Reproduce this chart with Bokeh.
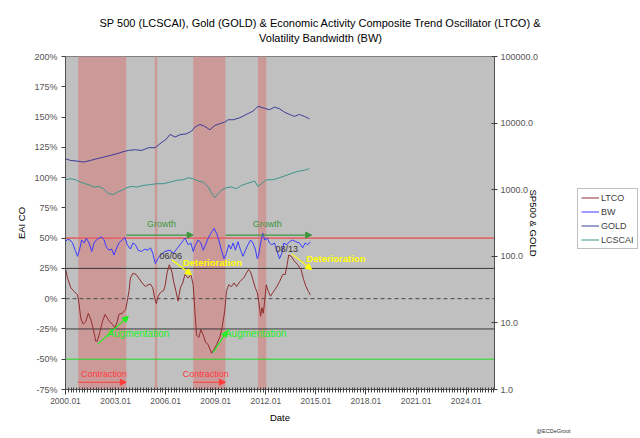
import math
from bokeh.plotting import figure
from bokeh.layouts import column, row
from bokeh.models import (Range1d, LogScale, LogAxis, FixedTicker, PrintfTickFormatter,
                          NumeralTickFormatter, Span, BoxAnnotation, Label, Arrow,
                          NormalHead, Legend, LegendItem, Title)
from bokeh.embed import file_html
from bokeh.resources import INLINE

FONT = "Liberation Sans"

# ---------------- data ----------------
ltco_year = [2000.00, 2000.12, 2000.32, 2000.52, 2000.72, 2000.82, 2000.91, 2001.06, 2001.21, 2001.37,
             2001.51, 2001.65, 2001.81, 2001.91, 2002.05, 2002.21, 2002.37, 2002.50, 2002.64, 2002.80,
             2002.96, 2003.10, 2003.20, 2003.40, 2003.60, 2003.70, 2003.80, 2003.89, 2004.04, 2004.23,
             2004.39, 2004.59, 2004.79, 2004.95, 2005.09, 2005.23, 2005.35, 2005.44, 2005.55, 2005.68,
             2005.78, 2005.89, 2005.98, 2006.08, 2006.22, 2006.38, 2006.48, 2006.62, 2006.74, 2006.88,
             2007.02, 2007.16, 2007.35, 2007.51, 2007.65, 2007.75, 2007.85, 2007.99, 2008.11, 2008.25,
             2008.39, 2008.55, 2008.75, 2008.90, 2009.05, 2009.24, 2009.38, 2009.54, 2009.64, 2009.78,
             2009.94, 2010.10, 2010.24, 2010.44, 2010.69, 2010.83, 2010.97, 2011.09, 2011.23, 2011.37,
             2011.49, 2011.57, 2011.69, 2011.77, 2011.85, 2011.93, 2012.03, 2012.12, 2012.28, 2012.42,
             2012.62, 2012.82, 2013.02, 2013.16, 2013.28, 2013.37, 2013.52, 2013.71, 2013.91, 2014.11,
             2014.27, 2014.41, 2014.55, 2014.67]
ltco_val = [25, 17, 9, 6, 3, -5, -16, -21, -19, -12,
            -17, -24, -35, -35, -28, -19, -13, -16, -19, -21,
            -24, -19, -13, -12, -9, -2, 6, 17, 21, 20,
            17, 13, 10, 11.5, 12, 9, 0, -4, 2, 5,
            6, 7, 11.5, 21, 28, 22, 14, 6, -2, 9,
            13, 20, 17, 20, 11.5, -10, -30, -32, -25.5, -30,
            -36, -38, -45, -42, -38, -32, -24, -10, 6, 11.5,
            10, 13, 10, 14, 17.5, 21, 24, 22, 15.6, 9,
            5, -2, -14.5, -7.5, -12, -2, 11.5, 7, 2, 5,
            9, 14, 20, 20, 28, 36, 35, 31, 28, 24,
            15.6, 10, 6, 3]

bw_year = [2000.00, 2000.12, 2000.26, 2000.42, 2000.58, 2000.72, 2000.85, 2000.97, 2001.12, 2001.25,
           2001.41, 2001.57, 2001.71, 2001.85, 2002.01, 2002.16, 2002.31, 2002.44, 2002.61, 2002.76,
           2002.90, 2003.04, 2003.20, 2003.40, 2003.56, 2003.70, 2003.89, 2004.04, 2004.19, 2004.35,
           2004.55, 2004.75, 2004.95, 2005.09, 2005.23, 2005.38, 2005.53, 2005.68, 2005.96, 2006.26,
           2006.46, 2006.66, 2006.86, 2007.05, 2007.16, 2007.35, 2007.51, 2007.65, 2007.79, 2007.95,
           2008.11, 2008.25, 2008.39, 2008.55, 2008.71, 2008.90, 2009.05, 2009.18, 2009.34, 2009.50,
           2009.64, 2009.78, 2009.90, 2010.04, 2010.18, 2010.33, 2010.49, 2010.63, 2010.78, 2010.93,
           2011.09, 2011.23, 2011.37, 2011.49, 2011.57, 2011.69, 2011.82, 2011.93, 2012.09, 2012.22,
           2012.36, 2012.52, 2012.68, 2012.82, 2012.96, 2013.08, 2013.22, 2013.42, 2013.60, 2013.80,
           2014.01, 2014.21, 2014.35, 2014.51, 2014.67]
bw_val = [47, 49, 48.5, 46, 40, 35, 41, 48.5, 46, 50,
          46, 39, 46, 48.5, 50, 51, 48.5, 43, 40, 41,
          36, 41, 46, 48.5, 50.5, 44.5, 41, 46, 44.5, 40,
          39, 41, 40, 42, 37.5, 29, 33, 36, 39, 40,
          37.5, 41, 44.5, 48, 50, 44.5, 46, 39, 44.5, 48.5,
          46, 40, 44.5, 50, 54, 58, 54, 48.5, 40, 33,
          37.5, 44.5, 41, 46, 40, 47, 40, 35, 40, 44.5,
          48.5, 46, 41, 33, 36, 46, 54, 48.5, 50, 46,
          44.5, 46, 39, 33, 37.5, 46, 44.5, 47, 48.5, 47,
          46, 42, 46, 44.5, 47]

gold_year = [2000.00, 2000.30, 2000.70, 2001.09, 2001.49, 2001.89, 2002.28, 2002.68, 2003.08, 2003.38,
             2003.77, 2004.17, 2004.57, 2004.97, 2005.37, 2005.66, 2006.06, 2006.26, 2006.56, 2006.86,
             2007.26, 2007.56, 2007.75, 2008.05, 2008.35, 2008.65, 2008.94, 2009.24, 2009.54, 2009.74,
             2010.04, 2010.44, 2010.83, 2011.23, 2011.53, 2011.82, 2012.22, 2012.52, 2012.82, 2013.12,
             2013.42, 2013.71, 2014.01, 2014.31, 2014.61]
gold_val = [2920, 2750, 2690, 2600, 2750, 2920, 3090, 3270, 3470, 3670,
            3890, 3980, 3890, 4270, 4270, 4900, 5820, 6760, 6170, 6690,
            6920, 7590, 8720, 9550, 8900, 7940, 9230, 9780, 10350, 11220,
            11220, 12000, 13500, 15100, 17800, 17000, 15850, 17400, 16400, 14600,
            13500, 12600, 13500, 12600, 11600]

lcscai_year = [2000.00, 2000.30, 2000.60, 2000.89, 2001.19, 2001.49, 2001.69, 2001.99, 2002.28, 2002.58,
               2002.88, 2003.12, 2003.38, 2003.68, 2003.98, 2004.28, 2004.67, 2005.07, 2005.47, 2005.86,
               2006.26, 2006.66, 2007.05, 2007.35, 2007.65, 2007.95, 2008.25, 2008.55, 2008.75, 2008.94,
               2009.14, 2009.34, 2009.64, 2009.94, 2010.24, 2010.54, 2010.83, 2011.13, 2011.33, 2011.53,
               2011.73, 2012.03, 2012.42, 2012.82, 2013.22, 2013.60, 2014.01, 2014.31, 2014.61]
lcscai_val = [1410, 1460, 1410, 1300, 1230, 1160, 1095, 1120, 1035, 870,
              850, 920, 980, 1075, 1120, 1095, 1160, 1190, 1230, 1230,
              1300, 1380, 1410, 1510, 1460, 1350, 1300, 1095, 890, 760,
              870, 980, 1075, 1095, 1035, 1160, 1230, 1300, 1350, 1120,
              1230, 1410, 1410, 1510, 1640, 1780, 1910, 1950, 2070]

band_start = [2000.76, 2005.35, 2007.65, 2011.53]
band_end = [2003.64, 2005.50, 2009.58, 2012.03]

ref_levels = [50, 25, 0, -25, -50]
ref_colors = ["#E06A6A", "#3A3A3A", "#4A4A4A", "#3A3A3A", "#22DD22"]
ref_dashes = ["solid", "solid", "4 3", "solid", "solid"]

left_ticks = [-75, -50, -25, 0, 25, 50, 75, 100, 125, 150, 175, 200]
right_ticks = [1, 10, 100, 1000, 10000, 100000]
x_ticks = [2000, 2003, 2006, 2009, 2012, 2015, 2018, 2021, 2024]
x_labels = ["2000.01", "2003.01", "2006.01", "2009.01", "2012.01", "2015.01", "2018.01", "2021.01", "2024.01"]

series_names = ["LTCO", "BW", "GOLD", "LCSCAI"]
series_colors = ["#8E2E2E", "#3A3AFF", "#3C3C96", "#3A9488"]

title_lines = ["SP 500 (LCSCAI), Gold (GOLD) & Economic Activity Composite Trend Oscillator (LTCO) &",
               "Volatility Bandwidth (BW)"]

# ---------------- title strip ----------------
head = figure(width=640, height=46, output_backend="svg", toolbar_location=None,
              x_range=Range1d(0, 1), y_range=Range1d(0, 1), x_axis_type=None, y_axis_type=None,
              min_border=0, outline_line_color=None)
head.grid.visible = False
for txt, ypos in zip(title_lines, [23.3, 8.7]):
    head.add_layout(Label(x=320, y=ypos, x_units="screen", y_units="screen", text=txt,
                          text_font=FONT, text_font_size="11px", text_color="black",
                          text_align="center", text_baseline="middle"))

# ---------------- main chart ----------------
p = figure(width=573, height=390, output_backend="svg", toolbar_location=None,
           x_range=Range1d(2000, 2025.7), y_range=Range1d(-75, 200),
           min_border_left=65, min_border_right=79, min_border_top=10, min_border_bottom=47)
p.extra_y_ranges = {"log": Range1d(1, 100000)}
p.extra_y_scales = {"log": LogScale()}
p.background_fill_color = "#C0C0C0"
p.border_fill_color = "white"
p.outline_line_color = "#808080"
p.xgrid.visible = False
p.ygrid.visible = False

for s, e in zip(band_start, band_end):
    p.add_layout(BoxAnnotation(left=s, right=e, fill_color="#CC9999", fill_alpha=1.0,
                               line_color=None, level="underlay"))

for lv, c, d in zip(ref_levels, ref_colors, ref_dashes):
    p.add_layout(Span(location=lv, dimension="width", line_color=c, line_dash=d,
                      line_width=1.6 if lv == 50 else 1, level="underlay"))

p.line(gold_year, gold_val, y_range_name="log", line_color=series_colors[2], line_width=1)
p.line(lcscai_year, lcscai_val, y_range_name="log", line_color=series_colors[3], line_width=1)
p.line(bw_year, bw_val, line_color=series_colors[1], line_width=1)
p.line(ltco_year, ltco_val, line_color=series_colors[0], line_width=1)

ya = p.yaxis[0]
ya.ticker = FixedTicker(ticks=left_ticks)
ya.formatter = PrintfTickFormatter(format="%d%%")
ya.axis_label = "EAI CO"
xa = p.xaxis[0]
xa.ticker = FixedTicker(ticks=x_ticks, minor_ticks=[2000 + k / 6 for k in range(0, 155)])
xa.major_label_overrides = dict(zip(x_ticks, x_labels))
xa.axis_label = "Date"

ra = LogAxis(y_range_name="log")
ra.ticker = FixedTicker(ticks=right_ticks)
ra.formatter = NumeralTickFormatter(format="0.0")
ra.axis_label = "SP500 & GOLD"
p.add_layout(ra, "right")

for ax in (ya, xa, ra):
    ax.major_label_text_font = FONT
    ax.major_label_text_font_size = "9px"
    ax.major_label_text_color = "#555555"
    ax.axis_line_color = "#505050"
    ax.major_tick_line_color = "#404040"
    ax.minor_tick_line_color = "#404040" if ax is xa else None
    ax.major_label_standoff = 4
    ax.axis_label_text_font = FONT
    ax.axis_label_text_font_size = "9.5px"
    ax.axis_label_text_font_style = "normal"
    ax.axis_label_text_color = "black"

ya.major_tick_in = 0
ya.major_tick_out = 4
ya.axis_label_standoff = 4

xa.major_label_text_font_size = "8.5px"
xa.major_label_standoff = 3
xa.minor_tick_in = 2
xa.minor_tick_out = 3
xa.major_tick_in = 2
xa.major_tick_out = 5
xa.axis_label_standoff = 5

ra.major_tick_in = 3
ra.major_tick_out = 3
ra.major_label_standoff = 3
ra.axis_label_standoff = -13

# credit text under the chart, right of the plot area (kept inside this canvas)
p.add_layout(Title(text="@ECDeGroot", align="right", offset=-76, standoff=0, text_font=FONT,
                   text_font_size="5.5px", text_font_style="normal", text_color="#333333"), "below")

def dlabel(x, y, text, size, color, style="normal"):
    p.add_layout(Label(x=x, y=y, text=text, text_font=FONT, text_font_size=size,
                       text_color=color, text_align="center", text_baseline="middle",
                       text_font_style=style))

def arrow(x0, y0, x1, y1, color):
    p.add_layout(Arrow(x_start=x0, y_start=y0, x_end=x1, y_end=y1, line_color=color, line_width=1.2,
                       end=NormalHead(size=6, fill_color=color, line_color=color)))

GROWTH = "#3C963C"
dlabel(2005.75, 61.5, "Growth", "9px", GROWTH)
dlabel(2012.08, 61.5, "Growth", "9px", GROWTH)
arrow(2003.64, 52.5, 2007.65, 52.5, GROWTH)
arrow(2009.58, 52.5, 2014.75, 52.5, GROWTH)

CONTR = "#FF3A3A"
dlabel(2002.3, -62, "Contraction", "9px", CONTR)
dlabel(2008.4, -62, "Contraction", "9px", CONTR)
arrow(2000.76, -69, 2003.64, -69, CONTR)
arrow(2007.65, -69, 2009.58, -69, CONTR)

AUG = "#22EE22"
dlabel(2004.37, -28.5, "Augmentation", "10px", AUG)
dlabel(2011.4, -28.5, "Augmentation", "10px", AUG)
arrow(2001.93, -37.5, 2003.77, -14.5, AUG)
arrow(2008.84, -44.5, 2009.7, -26.5, AUG)

DET = "#FFFF00"
dlabel(2008.8, 30, "Deterioration", "9.5px", DET, style="bold")
dlabel(2016.2, 33, "Deterioration", "9.5px", DET, style="bold")
arrow(2006.38, 32, 2007.55, 19.7, DET)
arrow(2013.55, 37, 2014.75, 24, DET)

dlabel(2006.3, 35.5, "06/06", "9px", "#333333")
dlabel(2013.25, 41, "08/13", "9px", "#333333")

# ---------------- legend strip (series drawn out of its view, used as legend keys) ----------------
side = figure(width=67, height=390, output_backend="svg", toolbar_location=None,
              x_range=Range1d(0, 1), y_range=Range1d(0, 1), x_axis_type=None, y_axis_type=None,
              min_border=0, outline_line_color=None)
side.grid.visible = False
items = []
for name, col, xs, ys in zip(series_names, series_colors,
                             [ltco_year, bw_year, gold_year, lcscai_year],
                             [ltco_val, bw_val, gold_val, lcscai_val]):
    r = side.line(x=xs, y=ys, line_color=col, line_width=1)
    items.append(LegendItem(label=name, renderers=[r]))
legend = Legend(items=items, location=(4, 140), orientation="vertical")
legend.background_fill_color = "white"
legend.background_fill_alpha = 1.0
legend.border_line_color = "#808080"
legend.label_text_font = FONT
legend.label_text_font_size = "9px"
legend.label_text_color = "#404040"
legend.glyph_width = 18
legend.glyph_height = 11
legend.label_height = 11
legend.spacing = 3
legend.padding = 3
legend.margin = 0
legend.label_standoff = 2
side.add_layout(legend)

page = column(head, row(p, side))
open("out.html", "w").write(file_html(page, INLINE))
